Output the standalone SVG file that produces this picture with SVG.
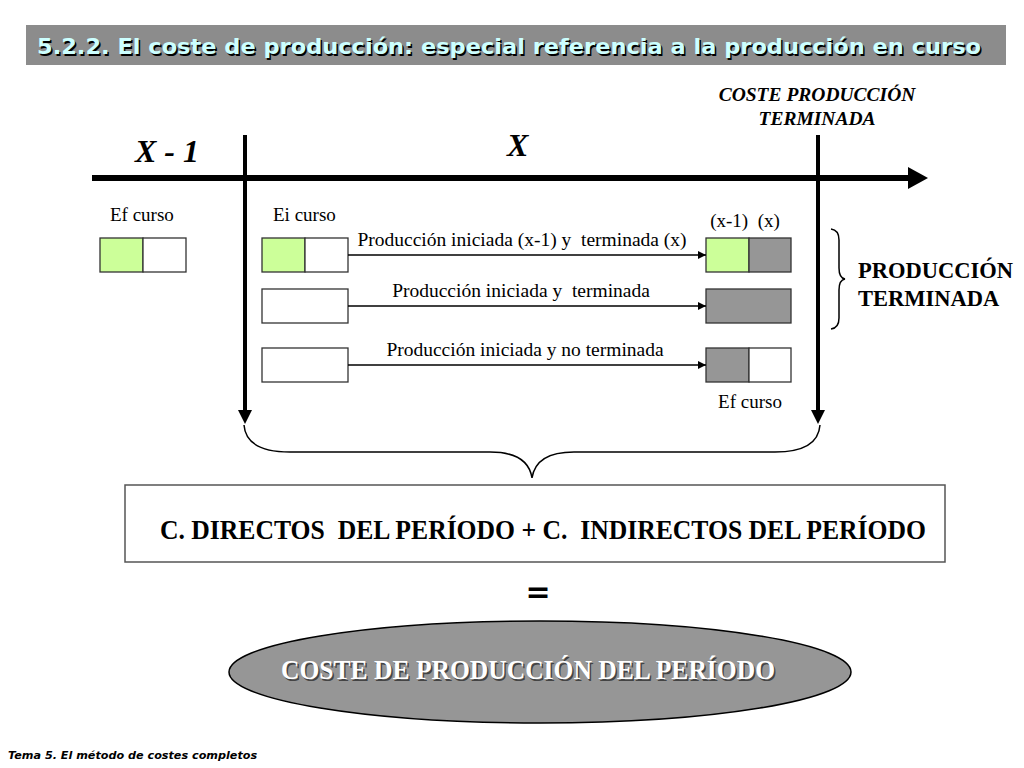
<svg xmlns="http://www.w3.org/2000/svg" width="1024" height="768" viewBox="0 0 1024 768">
<style>
.serif{font-family:"Liberation Serif","Times New Roman",serif;fill:#000}
.lbl{font-size:19.5px}
.sm{font-size:19px}
.box{stroke:#333;stroke-width:1.3}
.g{fill:#ccff99}
.w{fill:#fff}
.d{fill:#969696}
.thin{stroke:#000;stroke-width:1.5;fill:none}
</style>
<defs>
<marker id="ah" viewBox="0 0 10 10" refX="10" refY="5" markerWidth="8" markerHeight="8" markerUnits="userSpaceOnUse" orient="auto"><path d="M0,0 L10,5 L0,10 z" fill="#000"/></marker>
</defs>
<rect width="1024" height="768" fill="#fff"/>
<g id="title">
<rect x="26" y="25" width="980" height="40" fill="#8c8c8c"/>
<text x="38.5" y="55.5" font-family="DejaVu Sans, Verdana, sans-serif" font-weight="bold" font-size="22" fill="#000" textLength="944" lengthAdjust="spacingAndGlyphs">5.2.2. El coste de producción: especial referencia a la producción en curso</text>
<text x="37" y="54" font-family="DejaVu Sans, Verdana, sans-serif" font-weight="bold" font-size="22" fill="#ccffff" textLength="944" lengthAdjust="spacingAndGlyphs">5.2.2. El coste de producción: especial referencia a la producción en curso</text>
</g>
<g id="timeline">
<line x1="92" y1="178" x2="910" y2="178" stroke="#000" stroke-width="6"/>
<path d="M908,167 L928,178 L908,189 z" fill="#000"/>
<line x1="245" y1="135" x2="245" y2="412" stroke="#000" stroke-width="4"/>
<path d="M238,410 L245,424 L252,410 z" fill="#000"/>
<line x1="818" y1="135" x2="818" y2="412" stroke="#000" stroke-width="4"/>
<path d="M811,410 L818,424 L825,410 z" fill="#000"/>
<text class="serif" x="135" y="162" font-size="32" font-weight="bold" font-style="italic">X - 1</text>
<text class="serif" x="507" y="156" font-size="32" font-weight="bold" font-style="italic">X</text>
<text class="serif" x="817" y="101" font-size="19.5" font-weight="bold" font-style="italic" text-anchor="middle">COSTE PRODUCCIÓN</text>
<text class="serif" x="817" y="125" font-size="19.5" font-weight="bold" font-style="italic" text-anchor="middle">TERMINADA</text>
</g>
<g id="ef-curso-prev">
<text class="serif sm" x="110" y="221">Ef curso</text>
<rect class="box g" x="100" y="238" width="43" height="34"/>
<rect class="box w" x="143" y="238" width="43" height="34"/>
</g>
<g id="ei-curso">
<text class="serif sm" x="273" y="221">Ei curso</text>
<rect class="box g" x="262" y="238" width="43" height="34"/>
<rect class="box w" x="305" y="238" width="43" height="34"/>
</g>
<g id="start2"><rect class="box w" x="262" y="289" width="86" height="34"/></g>
<g id="start3"><rect class="box w" x="262" y="348" width="86" height="34"/></g>
<g id="end1">
<text class="serif sm" x="745" y="227" text-anchor="middle" xml:space="preserve">(x-1)  (x)</text>
<rect class="box g" x="706" y="238" width="43" height="34"/>
<rect class="box d" x="749" y="238" width="42" height="34"/>
</g>
<g id="end2"><rect class="box d" x="706" y="289" width="85" height="34"/></g>
<g id="end3">
<rect class="box d" x="706" y="348" width="43" height="34"/>
<rect class="box w" x="749" y="348" width="42" height="34"/>
<text class="serif sm" x="750" y="408" text-anchor="middle">Ef curso</text>
</g>
<g id="connectors">
<line x1="348" y1="255" x2="706" y2="255" stroke="#000" stroke-width="1.5" marker-end="url(#ah)"/>
<line x1="348" y1="306" x2="706" y2="306" stroke="#000" stroke-width="1.5" marker-end="url(#ah)"/>
<line x1="348" y1="365" x2="706" y2="365" stroke="#000" stroke-width="1.5" marker-end="url(#ah)"/>
<text class="serif lbl" x="522" y="246" text-anchor="middle" xml:space="preserve">Producción iniciada (x-1) y  terminada (x)</text>
<text class="serif lbl" x="521" y="297" text-anchor="middle" xml:space="preserve">Producción iniciada y  terminada</text>
<text class="serif lbl" x="525" y="356" text-anchor="middle">Producción iniciada y no terminada</text>
</g>
<g id="brace-right">
<path class="thin" d="M831,229 Q839,230 839,240 L839,268 Q839,278 845,279 Q839,280 839,290 L839,318 Q839,328 831,329"/>
<text class="serif" x="858" y="278" font-size="22.5" font-weight="bold">PRODUCCIÓN</text>
<text class="serif" x="858" y="306" font-size="22.5" font-weight="bold">TERMINADA</text>
</g>
<g id="brace-bottom">
<path class="thin" d="M244,425 Q246,452 290,452 L490,452 Q528,452 532,478 Q536,452 574,452 L775,452 Q818,452 820,425"/>
</g>
<g id="costs">
<rect x="125" y="485" width="820" height="77" fill="#fff" stroke="#555" stroke-width="1.5"/>
<text class="serif" x="160" y="539" font-size="28" font-weight="bold" textLength="766" lengthAdjust="spacingAndGlyphs" xml:space="preserve">C. DIRECTOS  DEL PERÍODO + C.  INDIRECTOS DEL PERÍODO</text>
</g>
<g id="equals">
<text x="538" y="602" font-family="DejaVu Sans, sans-serif" font-weight="bold" font-size="30" text-anchor="middle">=</text>
</g>
<g id="result">
<ellipse cx="540" cy="672" rx="311" ry="51" fill="#969696" stroke="#000" stroke-width="1.5"/>
<text x="529.5" y="680.5" font-family="Liberation Serif, serif" font-size="28" font-weight="bold" text-anchor="middle" fill="#444" textLength="494" lengthAdjust="spacingAndGlyphs">COSTE DE PRODUCCIÓN DEL PERÍODO</text>
<text x="528" y="679" font-family="Liberation Serif, serif" font-size="28" font-weight="bold" text-anchor="middle" fill="#fff" textLength="494" lengthAdjust="spacingAndGlyphs">COSTE DE PRODUCCIÓN DEL PERÍODO</text>
</g>
<g id="footer">
<text x="8" y="759" font-family="DejaVu Sans, sans-serif" font-style="italic" font-weight="bold" font-size="11.2" fill="#000">Tema 5. El método de costes completos</text>
</g>
</svg>
